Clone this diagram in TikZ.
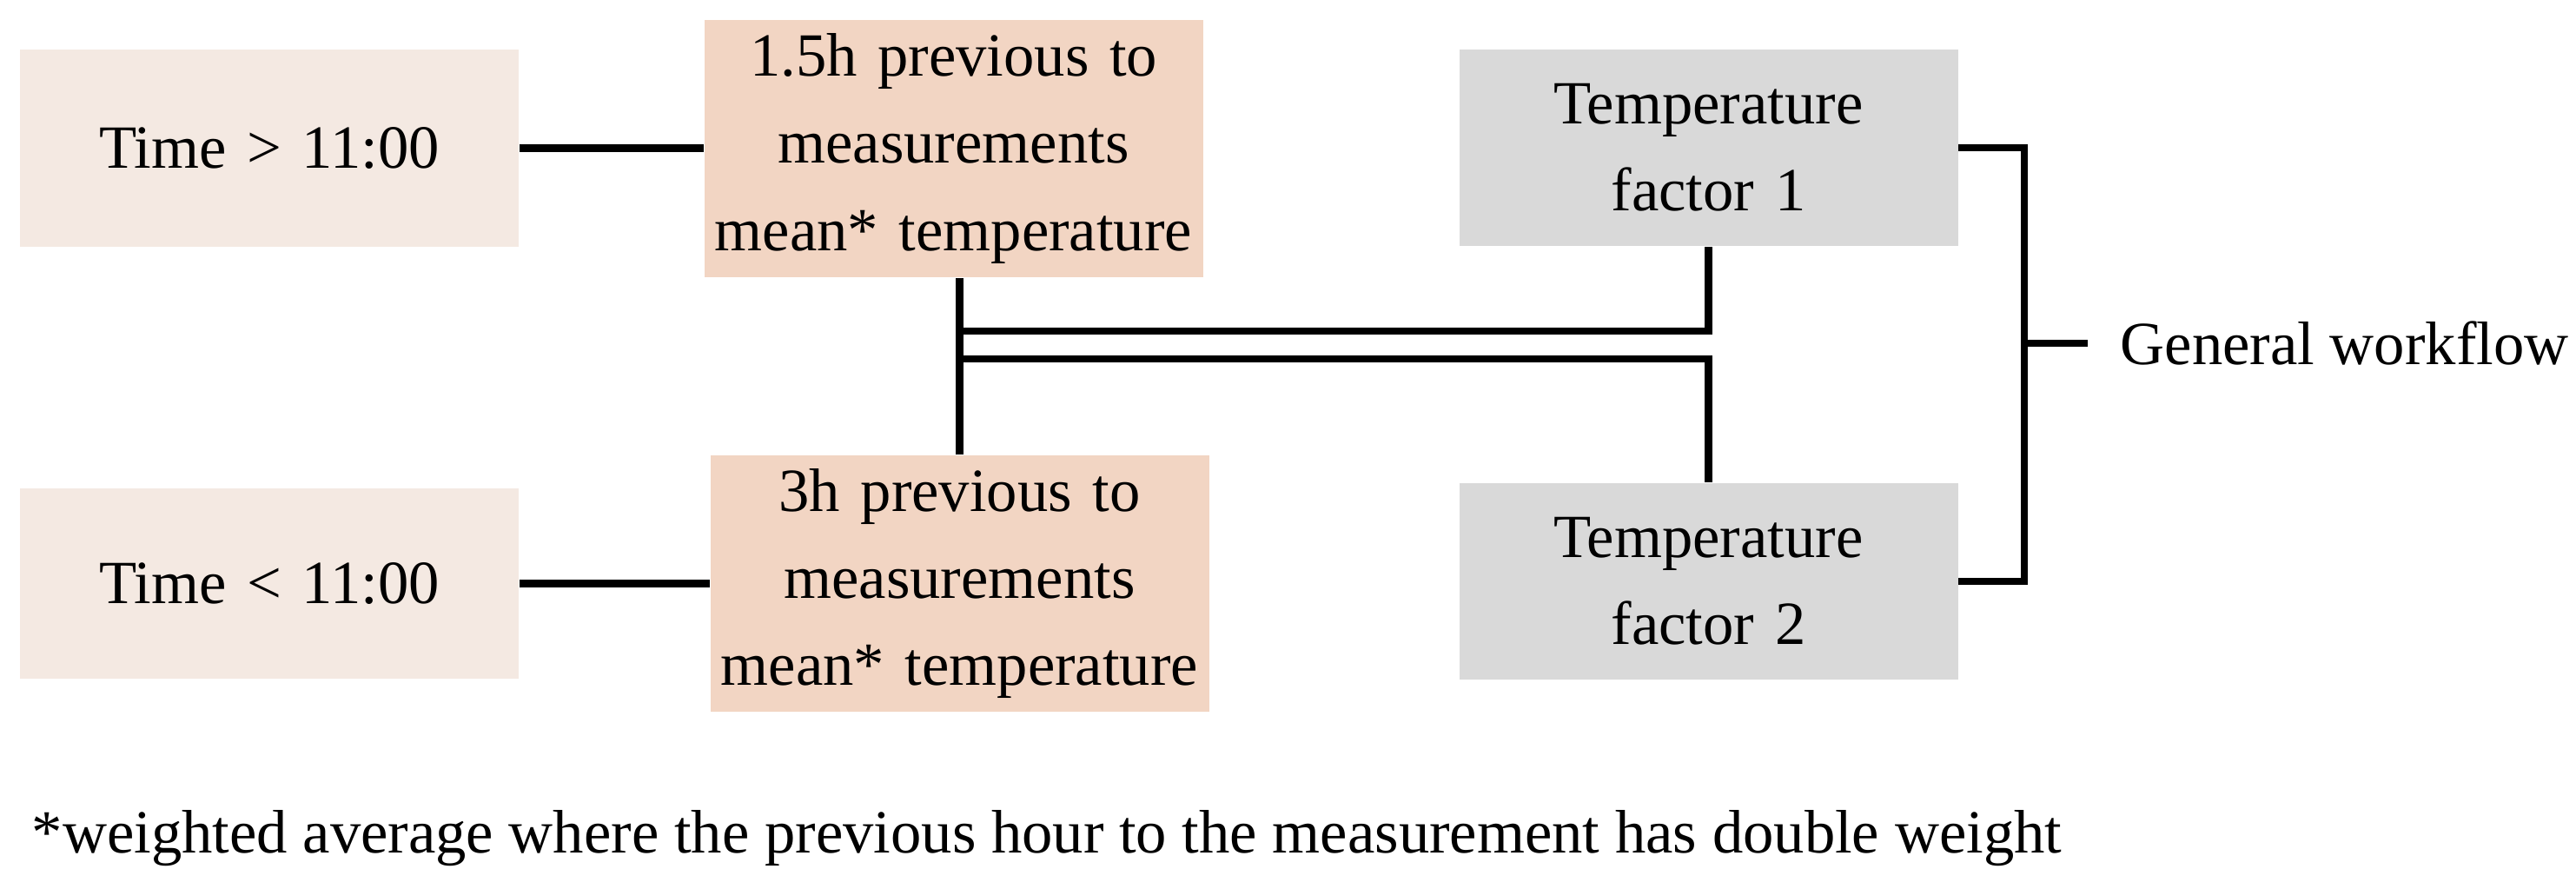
\documentclass[tikz,border=0pt]{standalone}
\usepackage{fontspec}
\setmainfont{Liberation Serif}
\definecolor{timefill}{HTML}{F4E9E2}
\definecolor{meanfill}{HTML}{F2D5C3}
\definecolor{factfill}{HTML}{D9D9D9}
\begin{document}
\begin{tikzpicture}[
  txt/.style={font=\fontsize{20.1pt}{28.5pt}\selectfont},
  box/.style={txt, inner sep=0pt, align=center, text width=5.74cm, minimum width=5.74cm},
  timebox/.style={box, fill=timefill, minimum height=2.2cm},
  meanbox/.style={box, fill=meanfill, minimum height=2.96cm},
  factbox/.style={box, fill=factfill, minimum height=2.26cm},
  conn/.style={line width=2.3pt, line join=miter}
]
\useasboundingbox (0,0) rectangle (29.65,-10.23);
\node[timebox, minimum height=2.27cm] (A1) at (3.10,-1.705) {Time > 11:00};
\node[meanbox] (B1) at (10.975,-1.71) {1.5h previous to\\measurements\\mean* temperature};
\node[timebox, minimum height=2.19cm] (A2) at (3.10,-6.715) {Time < 11:00};
\node[meanbox, minimum height=2.95cm] (B2) at (11.045,-6.715) {3h previous to\\measurements\\mean* temperature};
\node[factbox] (C1) at (19.665,-1.70) {Temperature\\factor 1};
\node[factbox] (C2) at (19.665,-6.69) {Temperature\\factor 2};
\node[txt, anchor=west, inner sep=0pt] (GW) at (24.40,-3.95) {General workflow};
\node[txt, anchor=base west, inner sep=0pt] (FN) at (0.36,-9.81) {*weighted average where the previous hour to the measurement has double weight};

\coordinate (J1) at (11.04,-3.81);
\coordinate (J2) at (11.04,-4.13);
\coordinate (T) at (23.30,-3.95);

\draw[conn] (A1.east) -- (A1.east -| B1.west);
\draw[conn] (A2.east) -- (A2.east -| B2.west);
\draw[conn] (B2.north) -- (B2.north |- B1.south);
\draw[conn] (J1) -| (C1.south);
\draw[conn] (J2) -| (C2.north);
\draw[conn] (C1.east) -- (T |- C1.east) |- (C2.east);
\draw[conn] (T) -- ([xshift=-0.37cm]GW.west);
\end{tikzpicture}
\end{document}
